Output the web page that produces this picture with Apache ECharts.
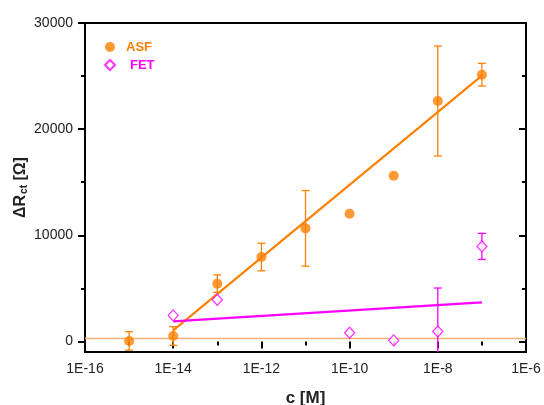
<!DOCTYPE html>
<html>
<head>
<meta charset="utf-8">
<script src="https://cdn.jsdelivr.net/npm/echarts@6/dist/echarts.min.js"></script>
<style>
  html, body { margin: 0; padding: 0; background: #fff; }
  #chart { width: 544px; height: 405px; }
</style>
</head>
<body>
<div id="chart"></div>
<script>
// ASF 数据 (浓度 M, ΔRct Ω, 误差)
const asfConc = [1e-15, 1e-14, 1e-13, 1e-12, 1e-11, 1e-10, 1e-9, 1e-8, 1e-7];
const asfValues = [40, 510, 5440, 7950, 10650, 12020, 15600, 22650, 25130];
const asfErrors = [870, 880, 820, 1300, 3560, 0, 0, 5180, 1070];

// FET 数据
const fetConc = [1e-14, 1e-13, 1e-10, 1e-9, 1e-8, 1e-7];
const fetValues = [2450, 3930, 820, 95, 940, 8950];
const fetErrors = [0, 0, 0, 0, 4090, 1230];

// 拟合线 (两端点)
const asfFitConc = [1e-14, 1e-7];
const asfFitValues = [1040, 25040];
const fetFitConc = [1e-14, 1e-7];
const fetFitValues = [1890, 3680];

// 基线
const baselineConc = [1e-16, 1e-6];
const baselineValue = 280;

// 坐标轴刻度
const xExpMin = -16, xExpMax = -6;
const yMajorTicks = [0, 10000, 20000, 30000];
const yMinorTicks = [5000, 15000, 25000];

const ORANGE = '#ff8000';
const MAGENTA = '#ff00ff';
const FONT = 'Liberation Sans, Arial, sans-serif';

const lg = v => Math.log10(v);

function errorSeries(xs, ys, errs, color) {
    const data = xs.map((x, i) => [lg(x), ys[i] - errs[i], ys[i] + errs[i]])
        .filter(d => d[2] > d[1]);
    return {
        type: 'custom',
        data,
        clip: true,
        z: 2,
        encode: { x: 0, y: [1, 2] },
        renderItem(params, api) {
            const lo = api.coord([api.value(0), api.value(1)]);
            const hi = api.coord([api.value(0), api.value(2)]);
            const w = 4;
            const style = { stroke: color, lineWidth: 1.3 };
            return {
                type: 'group',
                children: [
                    { type: 'line', shape: { x1: hi[0], y1: hi[1], x2: lo[0], y2: lo[1] }, style },
                    { type: 'line', shape: { x1: hi[0] - w, y1: hi[1], x2: hi[0] + w, y2: hi[1] }, style },
                    { type: 'line', shape: { x1: lo[0] - w, y1: lo[1], x2: lo[0] + w, y2: lo[1] }, style }
                ]
            };
        }
    };
}

const tickStyle = { color: '#000', width: 2 };

// 左右 y 轴: 主刻度 + 次刻度分别一条轴
function yAx(position, ticks, len, inside, primary) {
    return {
        type: 'value',
        position,
        min: -1000,
        max: 30000,
        axisLine: { show: false },
        axisTick: {
            show: true,
            inside,
            length: len,
            customValues: ticks,
            lineStyle: tickStyle
        },
        axisLabel: primary && position === 'left' ? {
            show: true,
            customValues: yMajorTicks,
            color: '#222',
            fontSize: 14,
            fontFamily: FONT,
            margin: 12,
            formatter: v => String(v)
        } : { show: false },
        splitLine: { show: false },
        name: primary && position === 'left' ? '{b|ΔR}{s|ct}{b| [Ω]}' : '',
        nameLocation: 'middle',
        nameRotate: 90,
        nameGap: 56,
        nameMoveOverlap: false,
        nameTextStyle: {
            rich: {
                b: { fontSize: 16, fontWeight: 'bold', fontFamily: FONT, color: '#222' },
                s: { fontSize: 10, fontWeight: 'bold', fontFamily: FONT, color: '#222', verticalAlign: 'bottom', padding: [6, 0, 0, 1] }
            }
        }
    };
}

function xAx(position, inside, primary) {
    return {
        type: 'value',
        position,
        min: xExpMin,
        max: xExpMax,
        interval: 2,
        axisLine: { show: false },
        axisTick: { show: true, inside, length: 7, lineStyle: tickStyle },
        minorTick: { show: true, splitNumber: 2, length: 4, lineStyle: tickStyle },
        axisLabel: primary ? {
            show: true,
            color: '#222',
            fontSize: 14,
            fontFamily: FONT,
            margin: 10,
            formatter: v => '1E' + v
        } : { show: false },
        splitLine: { show: false },
        name: primary ? 'c [M]' : '',
        nameLocation: 'middle',
        nameGap: 38,
        nameMoveOverlap: false,
        nameTextStyle: { fontSize: 17, fontWeight: 'bold', fontFamily: FONT, color: '#222' }
    };
}

const option = {
    animation: false,
    grid: {
        left: 85, right: 18, top: 23, bottom: 53,
        containLabel: false,
        outerBoundsMode: 'none',
        show: true, borderColor: '#000', borderWidth: 2, backgroundColor: 'transparent'
    },
    xAxis: [xAx('bottom', false, true), xAx('top', true, false)],
    yAxis: [
        yAx('left', yMajorTicks, 7, false, true),
        yAx('left', yMinorTicks, 4, false, false),
        yAx('right', yMajorTicks, 7, true, true),
        yAx('right', yMinorTicks, 4, true, false)
    ],
    legend: {
        orient: 'vertical',
        left: 99,
        top: 35,
        itemWidth: 10,
        itemHeight: 10,
        itemGap: 4,
        selectedMode: false,
        data: [
            { name: 'ASF', icon: 'circle', textStyle: { color: ORANGE, padding: [0, 0, 0, 6] } },
            { name: 'FET', icon: 'diamond', textStyle: { color: MAGENTA, padding: [0, 0, 0, 10] } }
        ],
        textStyle: { fontSize: 13, fontWeight: 'bold', fontFamily: FONT, lineHeight: 14 }
    },
    series: [
        {
            name: 'baseline',
            type: 'line',
            data: baselineConc.map(c => [lg(c), baselineValue]),
            symbol: 'none',
            lineStyle: { color: '#f7b375', width: 1.5 },
            z: 1,
            silent: true
        },
        {
            name: 'ASF fit',
            type: 'line',
            data: asfFitConc.map((c, i) => [lg(c), asfFitValues[i]]),
            symbol: 'none',
            lineStyle: { color: ORANGE, width: 2.2 },
            z: 3
        },
        {
            name: 'FET fit',
            type: 'line',
            data: fetFitConc.map((c, i) => [lg(c), fetFitValues[i]]),
            symbol: 'none',
            lineStyle: { color: MAGENTA, width: 2.2 },
            z: 3
        },
        errorSeries(asfConc, asfValues, asfErrors, ORANGE),
        errorSeries(fetConc, fetValues, fetErrors, MAGENTA),
        {
            name: 'ASF',
            type: 'scatter',
            data: asfConc.map((c, i) => [lg(c), asfValues[i]]),
            symbol: 'circle',
            symbolSize: 10,
            itemStyle: { color: ORANGE },
            z: 4
        },
        {
            name: 'FET',
            type: 'scatter',
            data: fetConc.map((c, i) => [lg(c), fetValues[i]]),
            symbol: 'diamond',
            symbolSize: [10, 11],
            itemStyle: { color: '#fff', borderColor: MAGENTA, borderWidth: 1.3 },
            z: 4
        }
    ]
};

const chart = echarts.init(document.getElementById('chart'), null, { renderer: 'canvas' });
chart.setOption(option);
</script>
</body>
</html>
